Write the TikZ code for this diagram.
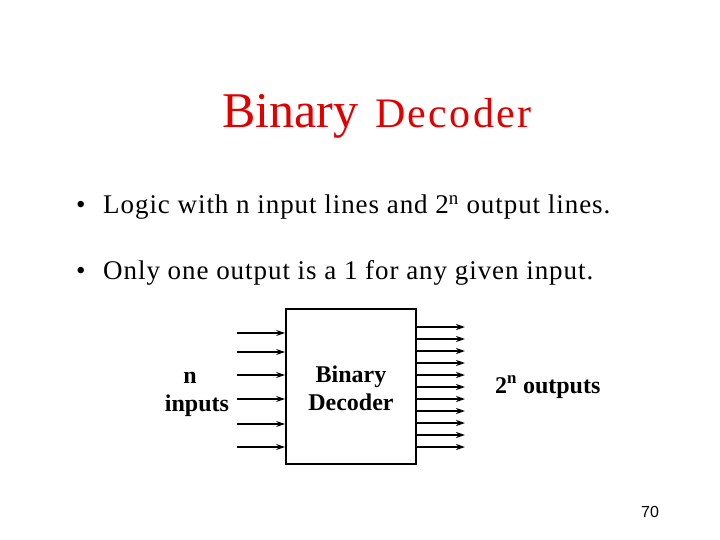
\documentclass[tikz,border=0pt]{standalone}
\usepackage{fontspec}
\setmainfont{Liberation Serif}
\newfontfamily\arialfont{Liberation Sans}
\newfontfamily\spacedfont[LetterSpace=3.5]{Liberation Serif}
\newfontfamily\titlefont[LetterSpace=5.5]{Liberation Serif}
\usetikzlibrary{arrows.meta}
\definecolor{titlered}{RGB}{225,0,0}
\begin{document}
\begin{tikzpicture}[x=1pt,y=-1pt,
  wire/.style={line width=1.8pt,-{Stealth[length=9pt,width=6pt]}},
  lbl/.style={font=\fontsize{24}{28}\selectfont\bfseries,anchor=base,inner sep=0pt},
  bul/.style={font=\spacedfont\fontsize{27}{31}\selectfont,anchor=base west,inner sep=0pt}]
\useasboundingbox (0,0) rectangle (720,540);
\node[anchor=base west,inner sep=0pt,text=titlered,font=\fontsize{50}{54}\selectfont] (t1) at (222,128) {Binary};
\node[anchor=base west,inner sep=0pt,text=titlered,font=\titlefont\fontsize{42}{46}\selectfont] (t2) at (375,128) {Decoder};
\node[bul] (d1) at (76,214) {•};
\node[bul] (b1) at (103,214) {Logic with n input lines and 2\textsuperscript{n} output lines.};
\node[bul] (d2) at (76,279) {•};
\node[bul] (b2) at (103,279) {Only one output is a 1 for any given input.};
\node[draw,line width=1.8pt,minimum width=130pt,minimum height=155pt,inner sep=0pt] (dec) at (351,386.5) {};
\node[lbl] (dt1) at (351,382) {Binary};
\node[lbl] (dt2) at (351,410) {Decoder};
\node[lbl] (in1) at (190,383) {n};
\node[lbl] (in2) at (197,411) {inputs};
\node[lbl,anchor=base west] (outl) at (495,393) {2\textsuperscript{n} outputs};
\foreach \i/\y in {1/333,2/352,3/375,4/399,5/424,6/447}{
  \coordinate (is\i) at (237,\y);
  \coordinate (ie\i) at (dec.west |- is\i);
  \draw[wire] (is\i) -- (ie\i);
}
\foreach \i in {0,...,10}{
  \coordinate (os\i) at (dec.east |- 0,327+12*\i);
  \coordinate (oe\i) at (465,327+12*\i);
  \draw[wire] (os\i) -- (oe\i);
}
\node[font=\arialfont\fontsize{16}{18}\selectfont,inner sep=0pt] (pg) at (650,512) {70};
\end{tikzpicture}
\end{document}
